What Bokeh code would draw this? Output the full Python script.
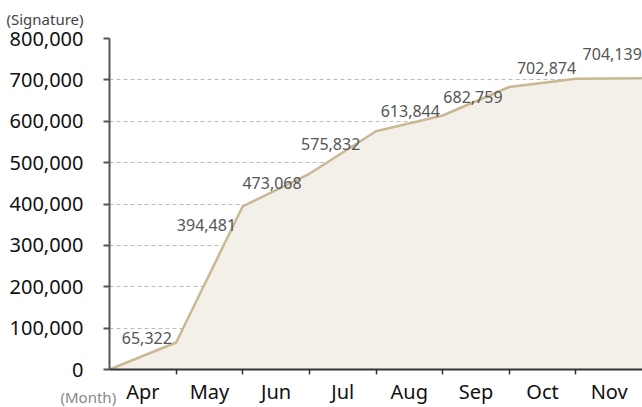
from bokeh.plotting import figure
from bokeh.models import (Range1d, FixedTicker, NumeralTickFormatter, Title,
                          ColumnDataSource)
from bokeh.core.properties import value
from bokeh.embed import file_html
from bokeh.resources import INLINE

# ---- data ----
months = ["Apr", "May", "Jun", "Jul", "Aug", "Sep", "Oct", "Nov"]
signatures = [65322, 394481, 473068, 575832, 613844, 682759, 702874, 704139]
y_ticks = [0, 100000, 200000, 300000, 400000, 500000, 600000, 700000, 800000]

# label nudges (pixels) to keep value labels clear of the line
label_dx = [4, -3, -4, -12, 1, -3, 4, 3]
label_dy = [-4, 19, 9, 13, -5, 10, -11, -24]

FONT = "Noto Sans"

n = len(months)
xs = list(range(n + 1))
ys = [0] + signatures

p = figure(width=642, height=407, output_backend="svg", toolbar_location=None,
           x_range=Range1d(0, n), y_range=Range1d(0, 800000),
           min_border_left=109, min_border_right=0, min_border_top=38,
           min_border_bottom=36)
p.outline_line_color = None
p.background_fill_color = "white"
p.border_fill_color = "white"

p.varea(x=xs, y1=[0] * len(xs), y2=ys, fill_color="#f3f0e9")
p.line(x=xs, y=ys, line_color="#c9b893", line_width=2.5)

src = ColumnDataSource(dict(
    x=[i + 0.5 for i in range(n)], y=signatures,
    t=[f"{v:,}" for v in signatures], dx=label_dx, dy=label_dy))
p.text(x="x", y="y", text="t", x_offset="dx", y_offset="dy", source=src,
       text_font=value(FONT), text_font_size="16px", text_color="#555555",
       text_align="center", text_baseline="middle")

# grid
p.xgrid.visible = False
p.ygrid.grid_line_color = "#bbbbbb"
p.ygrid.grid_line_dash = "4 3"
p.ygrid.grid_line_width = 1

# y axis
ya = p.yaxis[0]
ya.ticker = FixedTicker(ticks=y_ticks)
ya.formatter = NumeralTickFormatter(format="0,0")
ya.axis_line_color = "#555555"
ya.axis_line_width = 2
ya.major_tick_line_color = "#555555"
ya.major_tick_line_width = 2
ya.major_tick_out = 6
ya.major_tick_in = 0
ya.minor_tick_line_color = None
ya.major_label_text_font = FONT
ya.major_label_text_font_size = "20px"
ya.major_label_text_color = "#111111"
ya.major_label_standoff = 20

# x axis: labels centred on months, ticks on month boundaries
xa = p.xaxis[0]
xa.ticker = FixedTicker(ticks=[i + 0.5 for i in range(n)],
                        minor_ticks=list(range(1, n)))
xa.major_label_overrides = {i + 0.5: m for i, m in enumerate(months)}
xa.axis_line_color = "#333333"
xa.axis_line_width = 2
xa.major_tick_out = 0
xa.major_tick_in = 0
xa.minor_tick_line_color = "#333333"
xa.minor_tick_line_width = 1.5
xa.minor_tick_out = 5
xa.minor_tick_in = 0
xa.major_label_text_font = FONT
xa.major_label_text_font_size = "20px"
xa.major_label_text_color = "#111111"
xa.major_label_standoff = 3

# unit captions
p.title.text = "(Signature)"
p.title.align = "left"
p.title.vertical_align = "top"
p.title.offset = -103
p.title.standoff = 16
p.title.text_font = FONT
p.title.text_font_size = "15px"
p.title.text_font_style = "normal"
p.title.text_color = "#444444"

p.add_layout(Title(text="(Month)", align="left", vertical_align="top",
                   offset=-49, standoff=-42, text_font=FONT,
                   text_font_size="15px", text_font_style="normal",
                   text_color="#888888"), "below")

open("out.html", "w").write(file_html(p, INLINE))
